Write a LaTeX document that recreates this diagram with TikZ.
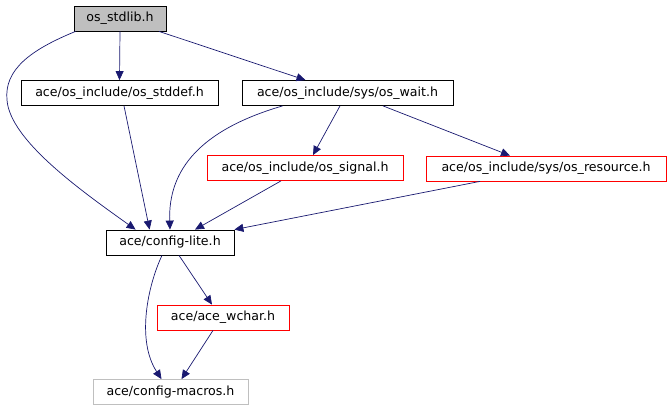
\documentclass[tikz,border=0pt]{standalone}
\usepackage{fontspec}
\setmainfont{DejaVu Sans}
\usetikzlibrary{arrows.meta}

\begin{document}
\begin{tikzpicture}[
    x=1pt, y=-1pt,
    every node/.style={font=\fontsize{12.6}{14}\selectfont, inner sep=0pt},
    datei/.style={draw=black, line width=0.8pt, minimum height=25pt},
    rotdatei/.style={datei, draw=red},
    graudatei/.style={datei, draw=black!25},
    kante/.style={draw={rgb,255:red,25;green,25;blue,112}, line width=0.7pt,
        -{Triangle[length=9pt,width=8pt]}}
]

% --- Rahmen in Pixeln (672 x 411) ---
\useasboundingbox (0,0) rectangle (672,411);

% --- Zeile 1 ---
\node[datei, fill=black!25, minimum width=92pt] (stdlib) at (120,18.5) {os\_stdlib.h};

% --- Zeile 2 ---
\node[datei, minimum width=197pt] (stddef) at (119.5,93) {ace/os\_include/os\_stddef.h};
\node[datei, minimum width=211pt] (wait)   at (347.5,93) {ace/os\_include/sys/os\_wait.h};

% --- Zeile 3 ---
\node[rotdatei, minimum width=196pt] (signal)   at (305,168) {ace/os\_include/os\_signal.h};
\node[rotdatei, minimum width=240pt] (resource) at (546,168.5) {ace/os\_include/sys/os\_resource.h};

% --- Zeile 4 bis 6 ---
\node[datei, minimum width=128pt]     (lite)   at (170,242.5) {ace/config-lite.h};
\node[rotdatei, minimum width=132pt]  (wchar)  at (223,317.5) {ace/ace\_wchar.h};
\node[graudatei, minimum width=155pt] (macros) at (170.5,392) {ace/config-macros.h};

% --- Kanten von os_stdlib.h ---
\draw[kante] ([xshift=2pt]stdlib.south west) .. controls (30,50) and (4,70) .. (7,100)
    .. controls (10,140) and (80,190) .. ([xshift=30pt]lite.north west);
\draw[kante] (stdlib.south) -- (stddef.north);
\draw[kante] ([xshift=39pt]stdlib.south) -- ([xshift=-42pt]wait.north);

% --- Kanten in Zeile 2 ---
\draw[kante] ([xshift=4.5pt]stddef.south) -- ([xshift=44pt]lite.north west);
\draw[kante] ([xshift=41pt]wait.south west) .. controls (200,130) and (168,170) .. (lite.north);
\draw[kante] ([xshift=-7.5pt]wait.south) -- ([xshift=8pt]signal.north);
\draw[kante] ([xshift=35.5pt]wait.south) -- ([xshift=-36pt]resource.north);

% --- Kanten in Zeile 3 ---
\draw[kante] ([xshift=-24pt]signal.south) -- ([xshift=25pt]lite.north);
\draw[kante] ([xshift=-66pt]resource.south) -- (lite.north east);

% --- Kanten unten ---
\draw[kante] ([xshift=-8pt]lite.south) .. controls (148,285) and (136,340) .. ([xshift=-9pt]macros.north);
\draw[kante] ([xshift=9pt]lite.south) -- ([xshift=-11pt]wchar.north);
\draw[kante] ([xshift=-10pt]wchar.south) -- ([xshift=11pt]macros.north);

\end{tikzpicture}
\end{document}
